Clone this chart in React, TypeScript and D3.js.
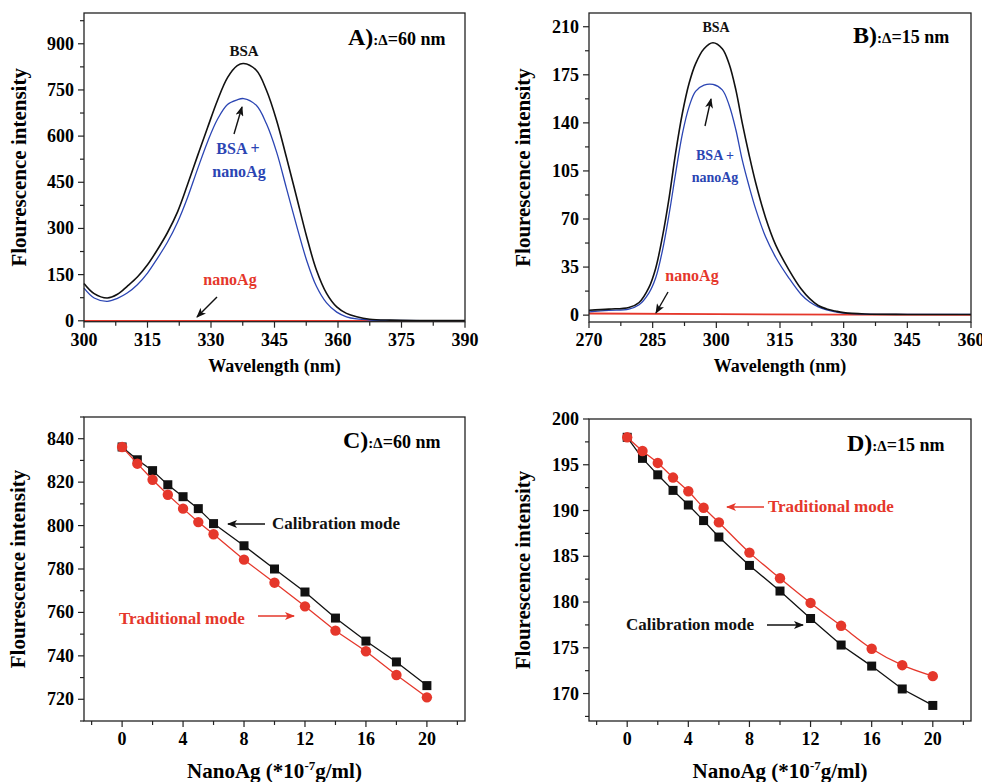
import React from 'react';
import * as d3 from 'd3';

// ---- panel A (delta = 60 nm) spectra ----
const waveA = [300, 302.4, 305.5, 307.9, 310.2, 312.6, 315, 317.3, 319.7, 322.1, 324.4, 326.8, 329.2, 331.5, 333.9, 336.2, 337.7, 340.7, 343.1, 345.5, 347.8, 350.2, 352.6, 354.9, 357.3, 359.7, 362, 364.4, 367.5, 372.3, 380, 390];
const bsaA = [121, 88, 74, 86, 112, 142, 182, 230, 286, 354, 440, 535, 628, 715, 790, 829, 836, 814, 749, 651, 532, 403, 273, 165, 89, 45, 24, 13, 5, 2, 1, 1];
const bsaAgA = [106, 74, 63, 73, 90, 117, 155, 202, 255, 320, 398, 492, 582, 654, 703, 718, 722, 700, 640, 548, 432, 310, 196, 112, 58, 28, 13, 6, 2.5, 1, 0.5, 0.5];
const waveAgA = [300, 390];
const agA = [0, 0];

// ---- panel B (delta = 15 nm) spectra ----
const waveB = [270, 274.7, 279.4, 281.8, 284.1, 285.7, 287.3, 288.9, 290.4, 292, 293.6, 295.1, 297.1, 299.2, 301.4, 303, 304.6, 306.1, 307.7, 309.3, 311.6, 314, 317.1, 320, 322, 324, 326, 328, 330, 335, 345, 360];
const bsaB = [3.6, 4.4, 5.6, 9.2, 20, 34, 57, 86, 118, 147, 169, 183, 194, 198.3, 194, 183, 164, 140, 117, 96, 71, 51, 33, 19, 12, 7, 4.5, 3, 1.8, 0.8, 0.5, 0.5];
const bsaAgB = [2.4, 3.5, 4.4, 7.5, 16, 27, 47, 74, 103, 132, 152, 163, 167.5, 168, 164, 153, 135, 113, 94, 77, 57, 42, 27, 15, 9.5, 6, 3.8, 2.3, 1.4, 0.7, 0.5, 0.5];
const waveAgB = [270, 300, 330, 360];
const agB = [1.2, 0.8, 0.3, 0.2];

// ---- panels C / D: intensity vs nanoAg ----
const conc = [0, 1, 2, 3, 4, 5, 6, 8, 10, 12, 14, 16, 18, 20];
const calibC = [836.2, 830.3, 825.3, 818.8, 813.3, 807.8, 800.9, 790.7, 780.0, 769.4, 757.4, 746.8, 737.2, 726.3];
const tradC = [836.2, 828.5, 821.1, 814.2, 807.8, 801.6, 796.0, 784.3, 773.7, 762.8, 751.6, 742.1, 731.2, 720.9];
const calibD = [198.0, 195.7, 193.9, 192.2, 190.6, 188.9, 187.1, 184.0, 181.2, 178.2, 175.3, 173.0, 170.5, 168.7];
const tradD = [198.0, 196.5, 195.2, 193.6, 192.1, 190.3, 188.7, 185.4, 182.6, 179.9, 177.4, 174.9, 173.1, 171.9];

const ticksA = [300, 315, 330, 345, 360, 375, 390];
const ticksAy = [0, 150, 300, 450, 600, 750, 900];
const ticksB = [270, 285, 300, 315, 330, 345, 360];
const ticksBy = [0, 35, 70, 105, 140, 175, 210];
const ticksConc = [0, 4, 8, 12, 16, 20];
const ticksCy = [720, 740, 760, 780, 800, 820, 840];
const ticksDy = [170, 175, 180, 185, 190, 195, 200];

const BLACK = '#111';
const BLUE = '#2b45b3';
const RED = '#e5372b';
const FONT = '"Liberation Serif", "Times New Roman", serif';

type Series = {
  x: number[];
  y: number[];
  color: string;
  marker?: 'square' | 'circle';
  curve?: d3.CurveFactory;
  width?: number;
};

type PanelProps = {
  left: number; top: number; right: number; bottom: number;
  xDomain: [number, number]; yDomain: [number, number];
  xTicks: number[]; xMinor: number[]; yTicks: number[]; yMinor: number[];
  xTitle: React.ReactNode; yTitleX: number; xTitleY: number;
  series: Series[];
  children?: React.ReactNode;
};

function Panel(p: PanelProps) {
  const x = d3.scaleLinear().domain(p.xDomain).range([p.left, p.right]);
  const y = d3.scaleLinear().domain(p.yDomain).range([p.bottom, p.top]);
  const midY = (p.top + p.bottom) / 2;
  const midX = (p.left + p.right) / 2;
  return (
    <g>
      {p.series.map((s, i) => {
        const pts = s.x.map((v, j) => [v, s.y[j]] as [number, number]);
        const line = d3.line<[number, number]>()
          .x(d => x(d[0]))
          .y(d => y(d[1]))
          .curve(s.curve || d3.curveLinear);
        return (
          <g key={i}>
            <path d={line(pts) || ''} fill="none" stroke={s.color} strokeWidth={s.width || 1.3} />
            {s.marker === 'square' && pts.map((d, j) => (
              <rect key={j} x={x(d[0]) - 4.5} y={y(d[1]) - 4.5} width={9} height={9} fill={s.color} />
            ))}
            {s.marker === 'circle' && pts.map((d, j) => (
              <circle key={j} cx={x(d[0])} cy={y(d[1])} r={5.2} fill={s.color} />
            ))}
          </g>
        );
      })}
      <rect x={p.left} y={p.top} width={p.right - p.left} height={p.bottom - p.top}
        fill="none" stroke="#222" strokeWidth={1.3} />
      {p.xTicks.map(t => (
        <g key={'x' + t}>
          <line x1={x(t)} x2={x(t)} y1={p.bottom} y2={p.bottom + 6} stroke="#222" strokeWidth={1.2} />
          <text x={x(t)} y={p.bottom + 24} textAnchor="middle" fontSize={18} fontWeight="bold">{t}</text>
        </g>
      ))}
      {p.xMinor.map(t => (
        <line key={'xm' + t} x1={x(t)} x2={x(t)} y1={p.bottom} y2={p.bottom + 4} stroke="#222" strokeWidth={1.2} />
      ))}
      {p.yTicks.map(t => (
        <g key={'y' + t}>
          <line x1={p.left - 6} x2={p.left} y1={y(t)} y2={y(t)} stroke="#222" strokeWidth={1.2} />
          <text x={p.left - 10} y={y(t) + 6} textAnchor="end" fontSize={18} fontWeight="bold">{t}</text>
        </g>
      ))}
      {p.yMinor.map(t => (
        <line key={'ym' + t} x1={p.left - 4} x2={p.left} y1={y(t)} y2={y(t)} stroke="#222" strokeWidth={1.2} />
      ))}
      <text transform={`translate(${p.yTitleX},${midY}) rotate(-90)`} textAnchor="middle"
        fontSize={21} fontWeight="bold">Flourescence intensity</text>
      <text x={midX} y={p.xTitleY} textAnchor="middle" fontWeight="bold">{p.xTitle}</text>
      {p.children}
    </g>
  );
}

function Label(props: { x: number; y: number; letter: string; rest: string }) {
  return (
    <text x={props.x} y={props.y} fontWeight="bold">
      <tspan fontSize={24}>{props.letter}</tspan>
      <tspan fontSize={15}>:Δ</tspan>
      <tspan fontSize={18}>{props.rest}</tspan>
    </text>
  );
}

function Arrow(props: { x1: number; y1: number; x2: number; y2: number; color: string }) {
  return (
    <line x1={props.x1} y1={props.y1} x2={props.x2} y2={props.y2} stroke={props.color}
      strokeWidth={1.4} markerEnd={`url(#arr-${props.color === RED ? 'red' : 'black'})`} />
  );
}

const range = (a: number, b: number, s: number) => d3.range(a, b + 1e-9, s);

const concTitle = (
  <tspan fontSize={21}>NanoAg (*10<tspan fontSize={13} dy={-8}>-7</tspan><tspan dy={8}>g/ml)</tspan></tspan>
);

export default function App() {
  return (
    <div style={{ position: 'absolute', left: 0, top: 0 }}>
      <style>{'body{margin:0}'}</style>
      <svg width={982} height={782} style={{ display: 'block', background: '#fff' }} fontFamily={FONT}>
        <defs>
          <marker id="arr-black" viewBox="0 0 10 8" refX={9} refY={4} markerWidth={10} markerHeight={8}
            markerUnits="userSpaceOnUse" orient="auto">
            <path d="M0,0 L10,4 L0,8 L2.5,4 Z" fill={BLACK} />
          </marker>
          <marker id="arr-red" viewBox="0 0 10 8" refX={9} refY={4} markerWidth={10} markerHeight={8}
            markerUnits="userSpaceOnUse" orient="auto">
            <path d="M0,0 L10,4 L0,8 L2.5,4 Z" fill={RED} />
          </marker>
        </defs>

        {/* A */}
        <Panel left={84} top={13} right={465} bottom={321.7}
          xDomain={[300, 390]} yDomain={[-3, 1000]}
          xTicks={ticksA} xMinor={range(307.5, 382.5, 15)}
          yTicks={ticksAy} yMinor={range(75, 975, 150)}
          xTitle={<tspan fontSize={18}>Wavelength (nm)</tspan>} yTitleX={26} xTitleY={372}
          series={[
            { x: waveAgA, y: agA, color: RED, width: 1.8 },
            { x: waveA, y: bsaAgA, color: BLUE, curve: d3.curveCatmullRom },
            { x: waveA, y: bsaA, color: BLACK, curve: d3.curveCatmullRom, width: 1.6 },
          ]}>
          <Label x={348} y={45} letter="A)" rest="=60 nm" />
          <text x={244} y={55.7} textAnchor="middle" fontSize={15} fontWeight="bold" fill={BLACK}>BSA</text>
          <text x={238} y={154} textAnchor="middle" fontSize={16} fontWeight="bold" fill={BLUE}>BSA +</text>
          <text x={239} y={176.7} textAnchor="middle" fontSize={16} fontWeight="bold" fill={BLUE}>nanoAg</text>
          <text x={230} y={285} textAnchor="middle" fontSize={16} fontWeight="bold" fill={RED}>nanoAg</text>
          <Arrow x1={234} y1={134} x2={242} y2={107} color={BLACK} />
          <Arrow x1={217} y1={297} x2={197} y2={317} color={BLACK} />
        </Panel>

        {/* B */}
        <Panel left={589} top={13} right={971} bottom={322}
          xDomain={[270, 360]} yDomain={[-5, 220]}
          xTicks={ticksB} xMinor={range(277.5, 352.5, 15)}
          yTicks={ticksBy} yMinor={range(17.5, 192.5, 35)}
          xTitle={<tspan fontSize={18}>Wavelength (nm)</tspan>} yTitleX={530} xTitleY={372}
          series={[
            { x: waveAgB, y: agB, color: RED, width: 1.8 },
            { x: waveB, y: bsaAgB, color: BLUE, curve: d3.curveCatmullRom },
            { x: waveB, y: bsaB, color: BLACK, curve: d3.curveCatmullRom, width: 1.6 },
          ]}>
          <Label x={853} y={43} letter="B)" rest="=15 nm" />
          <text x={716} y={31.7} textAnchor="middle" fontSize={14} fontWeight="bold" fill={BLACK}>BSA</text>
          <text x={715} y={160} textAnchor="middle" fontSize={14} fontWeight="bold" fill={BLUE}>BSA +</text>
          <text x={715} y={181.7} textAnchor="middle" fontSize={14} fontWeight="bold" fill={BLUE}>nanoAg</text>
          <text x={692} y={280.7} textAnchor="middle" fontSize={16} fontWeight="bold" fill={RED}>nanoAg</text>
          <Arrow x1={705} y1={126} x2={711} y2={99} color={BLACK} />
          <Arrow x1={668} y1={292} x2={656} y2={313} color={BLACK} />
        </Panel>

        {/* C */}
        <Panel left={84} top={417} right={465} bottom={721}
          xDomain={[-2.5, 22.5]} yDomain={[710, 850]}
          xTicks={ticksConc} xMinor={range(-2, 22, 4)}
          yTicks={ticksCy} yMinor={range(710, 850, 20)}
          xTitle={concTitle} yTitleX={25} xTitleY={778}
          series={[
            { x: conc, y: calibC, color: BLACK, marker: 'square' },
            { x: conc, y: tradC, color: RED, marker: 'circle' },
          ]}>
          <Label x={343} y={448} letter="C)" rest="=60 nm" />
          <text x={272} y={529.3} fontSize={17} fontWeight="bold" fill={BLACK}>Calibration mode</text>
          <Arrow x1={265} y1={524} x2={228} y2={524} color={BLACK} />
          <text x={119} y={624} fontSize={17} fontWeight="bold" fill={RED}>Traditional mode</text>
          <Arrow x1={258} y1={616} x2={294} y2={616} color={RED} />
        </Panel>

        {/* D */}
        <Panel left={589} top={419} right={971} bottom={721}
          xDomain={[-2.5, 22.5]} yDomain={[167, 200]}
          xTicks={ticksConc} xMinor={range(-2, 22, 4)}
          yTicks={ticksDy} yMinor={range(167.5, 197.5, 5)}
          xTitle={concTitle} yTitleX={530} xTitleY={778}
          series={[
            { x: conc, y: calibD, color: BLACK, marker: 'square' },
            { x: conc, y: tradD, color: RED, marker: 'circle', curve: d3.curveCatmullRom },
          ]}>
          <Label x={847} y={451} letter="D)" rest="=15 nm" />
          <text x={768} y={511.7} fontSize={17} fontWeight="bold" fill={RED}>Traditional mode</text>
          <Arrow x1={764} y1={507} x2={727} y2={507} color={RED} />
          <text x={626} y={630} fontSize={17} fontWeight="bold" fill={BLACK}>Calibration mode</text>
          <Arrow x1={767} y1={625} x2={803} y2={625} color={BLACK} />
        </Panel>
      </svg>
    </div>
  );
}
